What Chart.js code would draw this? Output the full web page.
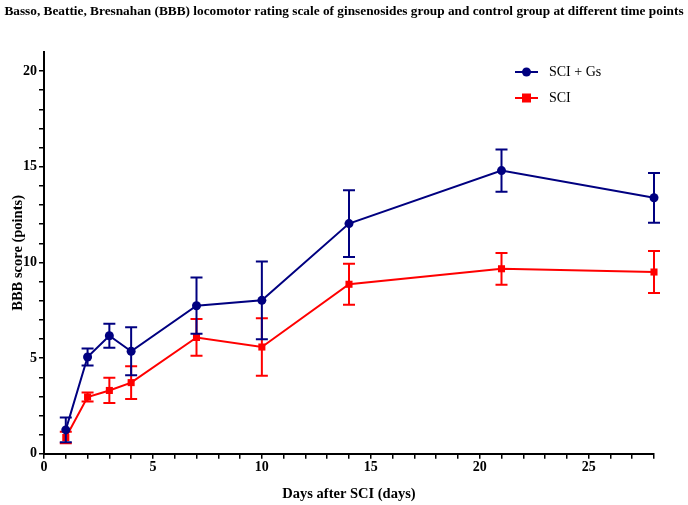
<!DOCTYPE html>
<html>
<head>
<meta charset="utf-8">
<script src="https://cdn.jsdelivr.net/npm/chart.js@4"></script>
<style>
 html, body { margin: 0; padding: 0; background: #fff; }
 #wrap { width: 688px; height: 505px; }
</style>
</head>
<body>
<div id="wrap"><canvas id="bbbChart" width="688" height="505"></canvas></div>
<script>
/* ── DATA ─────────────────────────────────────────────── */
const days     = [1, 2, 3, 4, 7, 10, 14, 21, 28];
const gsMean   = [1.25, 5.06, 6.17, 5.36, 7.74, 8.02, 12.03, 14.80, 13.38];
const gsSd     = [0.65, 0.44, 0.63, 1.25, 1.47, 2.03, 1.74, 1.10, 1.30];
const sciMean  = [0.85, 2.97, 3.31, 3.72, 6.08, 5.58, 8.86, 9.67, 9.50];
const sciSd    = [0.30, 0.24, 0.66, 0.86, 0.96, 1.50, 1.07, 0.83, 1.10];
const seriesLabels = ['SCI + Gs', 'SCI'];
const yTickLabels = [0, 5, 10, 15, 20];
const xTickLabels = [0, 5, 10, 15, 20, 25];

const NAVY = '#000080', RED = '#ff0000';
const FONT = '"Liberation Serif", "Times New Roman", serif';

/* ── ERROR BARS + LEGEND ──────────────────────────────── */
const errorBars = {
 id: 'errorBars',
 afterDatasetDraw(chart, args) {
  const ds = chart.data.datasets[args.index];
  if (!ds.sd) return;
  const { ctx, scales: { x, y } } = chart;
  ctx.save();
  ctx.strokeStyle = ds.borderColor;
  ctx.lineWidth = 2;
  ds.data.forEach((p, i) => {
   const px = x.getPixelForValue(p.x);
   const top = y.getPixelForValue(p.y + ds.sd[i]);
   const bot = y.getPixelForValue(p.y - ds.sd[i]);
   ctx.beginPath();
   ctx.moveTo(px, top); ctx.lineTo(px, bot);
   ctx.moveTo(px - 6, top); ctx.lineTo(px + 6, top);
   ctx.moveTo(px - 6, bot); ctx.lineTo(px + 6, bot);
   ctx.stroke();
  });
  ctx.restore();
 }
};

const insideLegend = {
 id: 'insideLegend',
 afterDraw(chart) {
  const { ctx } = chart;
  ctx.save();
  ctx.font = '14px ' + FONT;
  ctx.textBaseline = 'middle';
  chart.data.datasets.forEach((ds, i) => {
   const yy = 72 + i * 26, x0 = 515, x1 = 538, xm = (x0 + x1) / 2;
   ctx.strokeStyle = ds.borderColor;
   ctx.lineWidth = 2;
   ctx.beginPath(); ctx.moveTo(x0, yy); ctx.lineTo(x1, yy); ctx.stroke();
   ctx.fillStyle = ds.borderColor;
   if (ds.pointStyle === 'rect') ctx.fillRect(xm - 4.5, yy - 4.5, 9, 9);
   else { ctx.beginPath(); ctx.arc(xm, yy, 4.5, 0, Math.PI * 2); ctx.fill(); }
   ctx.fillStyle = '#000';
   ctx.fillText(ds.label, 549, yy);
  });
  ctx.restore();
 }
};

/* ── CHART ────────────────────────────────────────────── */
const toPts = arr => days.map((d, i) => ({ x: d, y: arr[i] }));
const tickFont = { family: FONT, size: 14, weight: 'bold' };
const axisTitleFont = { family: FONT, size: 14.5, weight: 'bold', lineHeight: 1 };

new Chart(document.getElementById('bbbChart').getContext('2d'), {
 type: 'line',
 data: {
  datasets: [{
   label: seriesLabels[0],
   data: toPts(gsMean),
   sd: gsSd,
   borderColor: NAVY,
   backgroundColor: NAVY,
   borderWidth: 2,
   pointStyle: 'circle',
   pointRadius: 4.5,
   pointBorderWidth: 0,
   tension: 0,
   clip: false
  }, {
   label: seriesLabels[1],
   data: toPts(sciMean),
   sd: sciSd,
   borderColor: RED,
   backgroundColor: RED,
   borderWidth: 2,
   pointStyle: 'rect',
   pointRadius: 5,
   pointBorderWidth: 0,
   tension: 0,
   clip: false
  }]
 },
 options: {
  responsive: false,
  animation: false,
  layout: { padding: 0 },
  plugins: {
   legend: { display: false },
   tooltip: { enabled: false },
   title: {
    display: true,
    text: 'Basso, Beattie, Bresnahan (BBB) locomotor rating scale of ginsenosides group and control group at different time points',
    color: '#000',
    font: { family: FONT, size: 13.3, weight: 'bold' },
    padding: { top: 4, bottom: 32 }
   }
  },
  scales: {
   x: {
    type: 'linear',
    min: 0, max: 28,
    border: { display: true, color: '#000', width: 2 },
    grid: { drawOnChartArea: false, drawTicks: true, tickLength: 5, color: '#000', lineWidth: 1.5 },
    afterBuildTicks: s => { s.ticks = Array.from({ length: 29 }, (_, i) => ({ value: i })); },
    ticks: {
     color: '#000', font: tickFont, padding: 0, autoSkip: false, maxRotation: 0,
     callback: v => xTickLabels.includes(v) ? v : ''
    },
    title: { display: true, text: 'Days after SCI (days)', color: '#000', font: { family: FONT, size: 14.5, weight: 'bold' }, padding: { top: 10, bottom: 2 } }
   },
   y: {
    min: 0, max: 21,
    border: { display: true, color: '#000', width: 2 },
    grid: { drawOnChartArea: false, drawTicks: true, tickLength: 5, color: '#000', lineWidth: 1.5 },
    afterBuildTicks: s => { s.ticks = Array.from({ length: 21 }, (_, i) => ({ value: i })); },
    afterFit: s => { s.width = 44; },
    ticks: {
     color: '#000', font: tickFont, padding: 2, autoSkip: false,
     callback: v => yTickLabels.includes(v) ? v : ''
    },
    title: { display: true, text: 'BBB score (points)', color: '#000', font: axisTitleFont, padding: { top: 11, bottom: 0 } }
   },
   // empty right-hand gutter so the plot ends at day 28 like the original
   gutter: {
    axis: 'y',
    position: 'right',
    display: true,
    border: { display: false },
    grid: { display: false },
    ticks: { display: false },
    afterFit: s => { s.width = 34; }
   }
  }
 },
 plugins: [errorBars, insideLegend]
});
</script>
</body>
</html>
